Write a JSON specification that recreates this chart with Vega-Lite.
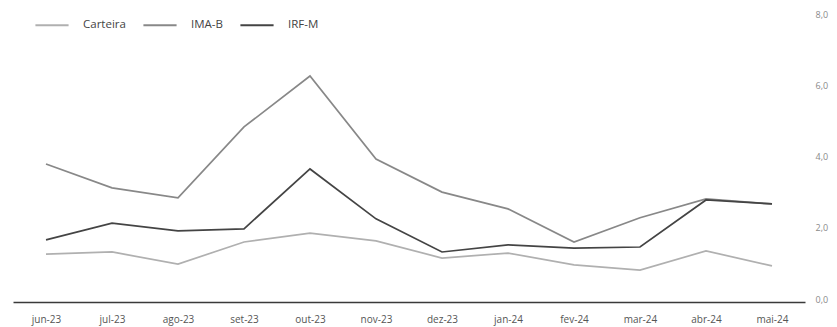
{
  "$schema": "https://vega.github.io/schema/vega-lite/v6.json",
  "width": 792,
  "height": 285,
  "autosize": {"type": "none"},
  "padding": {"left": 13, "top": 14, "right": 32, "bottom": 28},
  "background": "white",
  "config": {
    "font": "Open Sans",
    "view": {"stroke": null}
  },
  "data": {
    "values": [
      {"mes": "jun-23", "serie": "Carteira", "valor": 1.26},
      {"mes": "jul-23", "serie": "Carteira", "valor": 1.32},
      {"mes": "ago-23", "serie": "Carteira", "valor": 0.98},
      {"mes": "set-23", "serie": "Carteira", "valor": 1.60},
      {"mes": "out-23", "serie": "Carteira", "valor": 1.85},
      {"mes": "nov-23", "serie": "Carteira", "valor": 1.63},
      {"mes": "dez-23", "serie": "Carteira", "valor": 1.15},
      {"mes": "jan-24", "serie": "Carteira", "valor": 1.29},
      {"mes": "fev-24", "serie": "Carteira", "valor": 0.96},
      {"mes": "mar-24", "serie": "Carteira", "valor": 0.81},
      {"mes": "abr-24", "serie": "Carteira", "valor": 1.35},
      {"mes": "mai-24", "serie": "Carteira", "valor": 0.93},
      {"mes": "jun-23", "serie": "IMA-B", "valor": 3.79},
      {"mes": "jul-23", "serie": "IMA-B", "valor": 3.12},
      {"mes": "ago-23", "serie": "IMA-B", "valor": 2.84},
      {"mes": "set-23", "serie": "IMA-B", "valor": 4.83},
      {"mes": "out-23", "serie": "IMA-B", "valor": 6.26},
      {"mes": "nov-23", "serie": "IMA-B", "valor": 3.93},
      {"mes": "dez-23", "serie": "IMA-B", "valor": 3.00},
      {"mes": "jan-24", "serie": "IMA-B", "valor": 2.53},
      {"mes": "fev-24", "serie": "IMA-B", "valor": 1.60},
      {"mes": "mar-24", "serie": "IMA-B", "valor": 2.28},
      {"mes": "abr-24", "serie": "IMA-B", "valor": 2.81},
      {"mes": "mai-24", "serie": "IMA-B", "valor": 2.67},
      {"mes": "jun-23", "serie": "IRF-M", "valor": 1.66},
      {"mes": "jul-23", "serie": "IRF-M", "valor": 2.13},
      {"mes": "ago-23", "serie": "IRF-M", "valor": 1.91},
      {"mes": "set-23", "serie": "IRF-M", "valor": 1.97},
      {"mes": "out-23", "serie": "IRF-M", "valor": 3.65},
      {"mes": "nov-23", "serie": "IRF-M", "valor": 2.25},
      {"mes": "dez-23", "serie": "IRF-M", "valor": 1.32},
      {"mes": "jan-24", "serie": "IRF-M", "valor": 1.52},
      {"mes": "fev-24", "serie": "IRF-M", "valor": 1.43},
      {"mes": "mar-24", "serie": "IRF-M", "valor": 1.46},
      {"mes": "abr-24", "serie": "IRF-M", "valor": 2.78},
      {"mes": "mai-24", "serie": "IRF-M", "valor": 2.67}
    ]
  },
  "mark": {"type": "line", "strokeWidth": 1.7},
  "encoding": {
    "x": {
      "field": "mes",
      "type": "ordinal",
      "sort": null,
      "scale": {"type": "point", "padding": 0.5},
      "axis": {
        "title": null,
        "labelAngle": 0,
        "ticks": false,
        "offset": 3,
        "domainColor": "#3a3a3a",
        "domainWidth": 1.5,
        "labelColor": "#555555",
        "labelFontSize": 10,
        "labelPadding": 12,
        "grid": false
      }
    },
    "y": {
      "field": "valor",
      "type": "quantitative",
      "scale": {"domain": [0, 8]},
      "axis": {
        "orient": "right",
        "title": null,
        "values": [0, 2, 4, 6, 8],
        "labelExpr": "replace(format(datum.value, '.1f'), '.', ',')",
        "domain": false,
        "ticks": false,
        "grid": false,
        "labelColor": "#8a8a8a",
        "labelFontSize": 9,
        "labelPadding": 10
      }
    },
    "color": {
      "field": "serie",
      "type": "nominal",
      "scale": {
        "domain": ["Carteira", "IMA-B", "IRF-M"],
        "range": ["#b0b0b0", "#888888", "#444444"]
      },
      "legend": {
        "title": null,
        "orient": "none",
        "direction": "horizontal",
        "legendX": 21,
        "legendY": -7,
        "symbolType": "stroke",
        "symbolSize": 1100,
        "symbolStrokeWidth": 2,
        "labelFontSize": 11.5,
        "labelColor": "#444444",
        "columnPadding": 13,
        "labelOffset": 13
      }
    }
  }
}
